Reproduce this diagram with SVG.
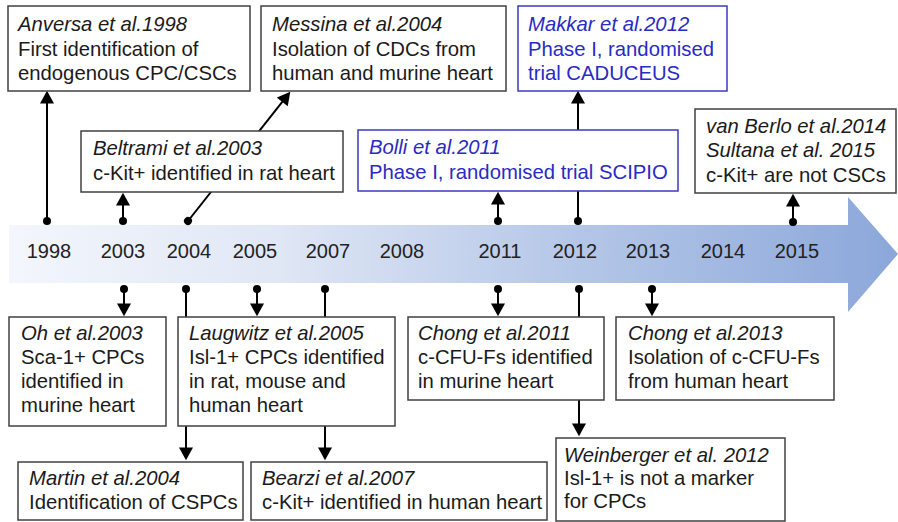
<svg xmlns="http://www.w3.org/2000/svg" width="898" height="522" viewBox="0 0 898 522">
<style>
.box{fill:#fff;stroke:#404040;stroke-width:1.5}
.bbox{fill:#fff;stroke:#3a3ac0;stroke-width:1.5}
text{font-family:"Liberation Sans",Arial,sans-serif;font-size:20.3px;fill:#1a1a1a}
.it{font-style:italic}
.blue{fill:#2a2ac4}
.yr{text-anchor:middle;fill:#222;font-size:20px}
.c{fill:none;stroke:#000;stroke-width:2}
.a{marker-start:url(#dot);marker-end:url(#arr)}
</style>
<defs>
<linearGradient id="g" gradientUnits="userSpaceOnUse" x1="9" y1="0" x2="898" y2="0">
<stop offset="0" stop-color="#f3f6fc"/>
<stop offset="0.3" stop-color="#e0e7f5"/>
<stop offset="0.6" stop-color="#b9cae9"/>
<stop offset="1" stop-color="#8ba7da"/>
</linearGradient>
<marker id="arr" markerUnits="userSpaceOnUse" markerWidth="14" markerHeight="14" viewBox="0 0 12 13" refX="8" refY="6.5" orient="auto">
<path d="M0,0 L12,6.5 L0,13 Z" fill="#000"/>
</marker>
<marker id="dot" markerUnits="userSpaceOnUse" markerWidth="10" markerHeight="10" viewBox="0 0 10 10" refX="5" refY="5" orient="auto">
<circle cx="5" cy="5" r="4" fill="#000"/>
</marker>
</defs>

<g id="timeline">
<path d="M9,225 H848 V197 L898,254 L848,312 V283 H9 Z" fill="url(#g)"/>
<text class="yr" x="49" y="258">1998</text>
<text class="yr" x="123" y="258">2003</text>
<text class="yr" x="189" y="258">2004</text>
<text class="yr" x="255" y="258">2005</text>
<text class="yr" x="328" y="258">2007</text>
<text class="yr" x="402" y="258">2008</text>
<text class="yr" x="500" y="258">2011</text>
<text class="yr" x="575" y="258">2012</text>
<text class="yr" x="648" y="258">2013</text>
<text class="yr" x="723" y="258">2014</text>
<text class="yr" x="797" y="258">2015</text>
</g>

<g id="connectors">
<path class="c a" d="M47,221 V95"/>
<path class="c a" d="M123,221 V197"/>
<path class="c a" d="M188,221 L287.6,95.2"/>
<path class="c a" d="M498,221 V196"/>
<path class="c a" d="M578,221 V95"/>
<path class="c a" d="M793,222 V198"/>
<path class="c a" d="M124,289 V312"/>
<path class="c a" d="M186,289 V456"/>
<path class="c a" d="M257,289 V312"/>
<path class="c a" d="M325,289 V456"/>
<path class="c a" d="M498,289 V312"/>
<path class="c a" d="M579,289 V432"/>
<path class="c a" d="M652,289 V312"/>
</g>

<g id="anversa">
<rect class="box" x="8" y="6" width="242" height="85"/>
<text x="18" y="31"><tspan class="it">Anversa et al.1998</tspan><tspan x="18" y="56">First identification of</tspan><tspan x="18" y="80">endogenous CPC/CSCs</tspan></text>
</g>
<g id="messina">
<rect class="box" x="261" y="6" width="245" height="85"/>
<text x="272" y="31"><tspan class="it">Messina et al.2004</tspan><tspan x="272" y="56">Isolation of CDCs from</tspan><tspan x="272" y="80">human and murine heart</tspan></text>
</g>
<g id="makkar">
<rect class="bbox" x="518" y="6" width="209" height="85"/>
<text class="blue" x="528" y="31"><tspan class="it">Makkar et al.2012</tspan><tspan x="528" y="56">Phase I, randomised</tspan><tspan x="528" y="80">trial CADUCEUS</tspan></text>
</g>
<g id="beltrami">
<rect class="box" x="81" y="131" width="262" height="61"/>
<text x="93" y="155"><tspan class="it">Beltrami et al.2003</tspan><tspan x="93" y="180">c-Kit+ identified in rat heart</tspan></text>
</g>
<g id="bolli">
<rect class="bbox" x="358" y="130" width="320" height="61"/>
<text class="blue" x="369" y="154"><tspan class="it">Bolli et al.2011</tspan><tspan x="369" y="179">Phase I, randomised trial SCIPIO</tspan></text>
</g>
<g id="vanberlo">
<rect class="box" x="695" y="109" width="201" height="84"/>
<text x="706" y="133"><tspan class="it">van Berlo et al.2014</tspan><tspan class="it" x="706" y="157">Sultana et al. 2015</tspan><tspan x="706" y="182">c-Kit+ are not CSCs</tspan></text>
</g>
<g id="oh">
<rect class="box" x="9" y="317" width="157" height="109"/>
<text x="21" y="340"><tspan class="it">Oh et al.2003</tspan><tspan x="21" y="364">Sca-1+ CPCs</tspan><tspan x="21" y="388">identified in</tspan><tspan x="21" y="412">murine heart</tspan></text>
</g>
<g id="laugwitz">
<rect class="box" x="178" y="317" width="217" height="109"/>
<text x="189" y="340"><tspan class="it">Laugwitz et al.2005</tspan><tspan x="189" y="364">Isl-1+ CPCs identified</tspan><tspan x="189" y="388">in rat, mouse and</tspan><tspan x="189" y="412">human heart</tspan></text>
</g>
<g id="chong2011">
<rect class="box" x="408" y="317" width="196" height="83"/>
<text x="418" y="340"><tspan class="it">Chong et al.2011</tspan><tspan x="418" y="364">c-CFU-Fs identified</tspan><tspan x="418" y="388">in murine heart</tspan></text>
</g>
<g id="chong2013">
<rect class="box" x="616" y="317" width="218" height="83"/>
<text x="628" y="340"><tspan class="it">Chong et al.2013</tspan><tspan x="628" y="364">Isolation of c-CFU-Fs</tspan><tspan x="628" y="388">from human heart</tspan></text>
</g>
<g id="martin">
<rect class="box" x="18" y="462" width="225" height="58"/>
<text x="29" y="485"><tspan class="it">Martin et al.2004</tspan><tspan x="29" y="509">Identification of CSPCs</tspan></text>
</g>
<g id="bearzi">
<rect class="box" x="251" y="462" width="296" height="58"/>
<text x="262" y="485"><tspan class="it">Bearzi et al.2007</tspan><tspan x="262" y="509">c-Kit+ identified in human heart</tspan></text>
</g>
<g id="weinberger">
<rect class="box" x="556" y="438" width="229" height="83"/>
<text x="564" y="462"><tspan class="it">Weinberger et al. 2012</tspan><tspan x="564" y="485">Isl-1+ is not a marker</tspan><tspan x="564" y="508">for CPCs</tspan></text>
</g>
</svg>
